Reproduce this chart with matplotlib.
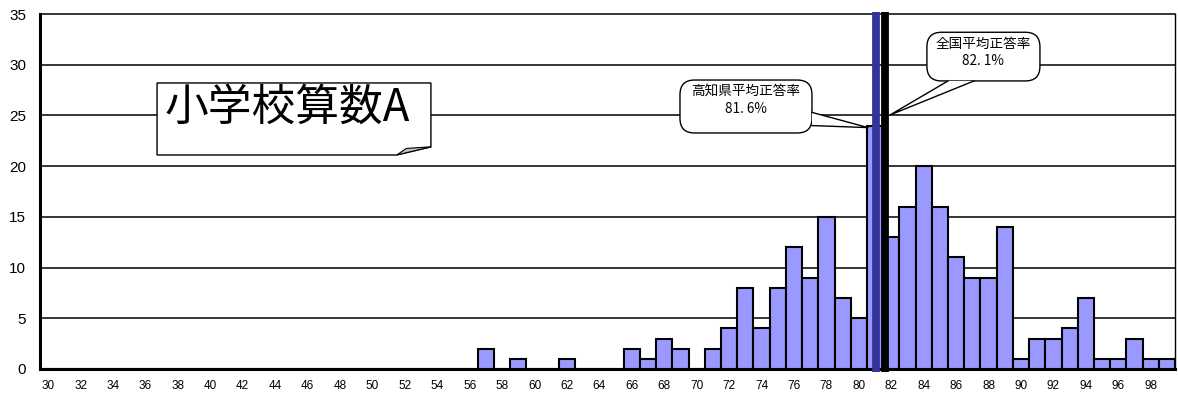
import matplotlib
matplotlib.use("Agg")
import matplotlib.pyplot as plt
from matplotlib.patches import Polygon, FancyBboxPatch

plt.rcParams['font.family'] = ['Noto Sans CJK JP', 'DejaVu Sans']

# score bins (percent correct) and number of schools
scores = list(range(30, 100))
counts = [0] * 27 + [2, 0, 1, 0, 0, 1, 0, 0, 0, 2, 1, 3, 2, 0,
                     2, 4, 8, 4, 8, 12, 9, 15, 7, 5, 24,
                     13, 16, 20, 16, 11, 9, 9, 14,
                     1, 3, 3, 4, 7, 1, 1, 3, 1, 1]
kochi_avg = 81.6
national_avg = 82.1
title = "小学校算数A"
kochi_label = "高知県平均正答率\n81. 6%"
national_label = "全国平均正答率\n82. 1%"

fig = plt.figure(figsize=(11.78, 3.98), dpi=100)
ax = fig.add_axes([40 / 1178, 29 / 398, 1135 / 1178, 355 / 398])

# bars: each bin occupies [v, v+1)
ax.bar(scores, counts, width=1.0, align="edge", color="#9999ff",
       edgecolor="black", linewidth=1.5, zorder=3)

ax.set_xlim(30, 100)
ax.set_ylim(0, 35)
ax.set_yticks(range(0, 36, 5))
ax.set_xticks([v + 0.5 for v in scores[::2]])
ax.set_xticklabels([str(v) for v in scores[::2]])
for lab in ax.get_xticklabels():
    lab.set_fontfamily("Liberation Sans")
    lab.set_fontsize(8.5)
for lab in ax.get_yticklabels():
    lab.set_fontfamily("Liberation Sans")
    lab.set_fontsize(11)
ax.tick_params(axis="y", length=0, pad=10)
ax.tick_params(axis="x", length=0, pad=8)

for y in range(5, 35, 5):
    ax.axhline(y, color="black", linewidth=1.1, zorder=1)
for side in ["left", "bottom"]:
    ax.spines[side].set_linewidth(2.2)
ax.spines["top"].set_linewidth(1.1)
ax.spines["right"].set_linewidth(1.0)

# average lines
ax.plot([kochi_avg - 0.04, kochi_avg - 0.04], [-0.3, 35.15], color="#333399", linewidth=5.6,
        zorder=5, clip_on=False, solid_capstyle="butt")
ax.plot([national_avg, national_avg], [-0.3, 35.15], color="black", linewidth=5.6,
        zorder=5, clip_on=False, solid_capstyle="butt")

# title box with folded corner
box = Polygon([(37.22, 28.2), (54.11, 28.2), (54.11, 21.9), (52.0, 21.1), (37.22, 21.1)],
              closed=True, facecolor="white", edgecolor="black", linewidth=1.0, zorder=6)
ax.add_patch(box)
fold = Polygon([(52.0, 21.1), (52.6, 21.75), (54.11, 21.9)], closed=True,
               facecolor="#c0c0c0", edgecolor="black", linewidth=0.8, zorder=7)
ax.add_patch(fold)
ax.text(37.7, 25.75, title, fontsize=31.5, va="center", ha="left", zorder=8)


def callout(x0, x1, y0, y1, tail, tip, label):
    b = FancyBboxPatch((x0, y0), x1 - x0, y1 - y0,
                       boxstyle="round,pad=0,rounding_size=0.9",
                       mutation_aspect=1.6,
                       facecolor="white", edgecolor="black", linewidth=1.0, zorder=6)
    ax.add_patch(b)
    tri = Polygon([tail[0], tip, tail[1]], closed=True, facecolor="white",
                  edgecolor="none", zorder=7)
    ax.add_patch(tri)
    ax.plot([tail[0][0], tip[0], tail[1][0]], [tail[0][1], tip[1], tail[1][1]],
            color="black", linewidth=1.0, zorder=7)
    ax.text((x0 + x1) / 2, y1 - 0.5, label, fontsize=9.8, ha="center", va="top",
            linespacing=1.25, zorder=8)


callout(69.47, 77.61, 23.27, 28.49, [(77.61, 25.3), (77.61, 24.0)], (81.07, 23.8),
        kochi_label)
callout(84.70, 91.67, 28.40, 33.20, [(86.0, 28.40), (87.6, 28.40)], (82.42, 25.04),
        national_label)

fig.savefig("out.png", dpi=100)
